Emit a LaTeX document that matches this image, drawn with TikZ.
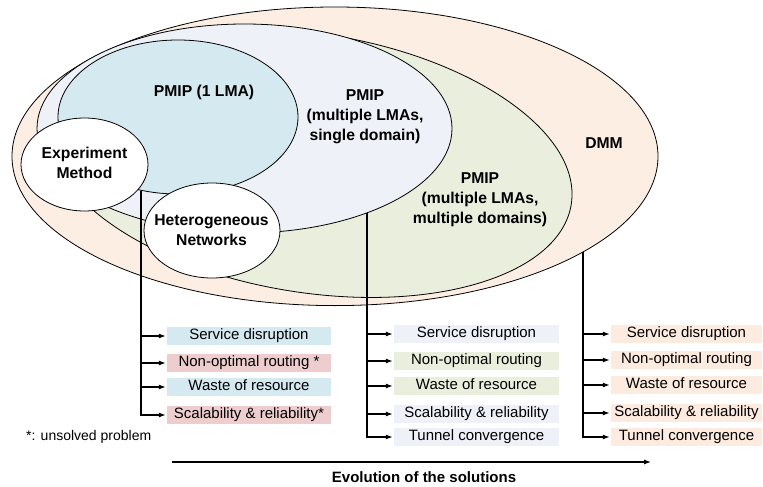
\documentclass[tikz,border=0pt]{standalone}
\usepackage{fontspec}
\setmainfont{Liberation Sans}
\usetikzlibrary{arrows.meta}
\definecolor{peachf}{HTML}{FDEEE3}
\definecolor{greenf}{HTML}{EAEEDC}
\definecolor{grayf}{HTML}{EEF1F7}
\definecolor{bluef}{HTML}{D4EAF0}
\definecolor{pinkf}{HTML}{EDCDCD}
\definecolor{peachbox}{HTML}{FDEBDF}
\begin{document}
\begin{tikzpicture}[x=1pt,y=-1pt,
  outl/.style={draw=black,line width=0.8pt},
  lbl/.style={font=\bfseries\fontsize{15.7}{20}\selectfont,align=center,inner sep=0pt},
  issue/.style={font=\fontsize{15}{18}\selectfont,inner sep=0pt,minimum height=18pt,
    text height=10.8pt,text depth=3.2pt},
  conn/.style={line width=1.1pt,-{Latex[length=7pt,width=5pt]},shorten >=1pt},
]
\useasboundingbox (0,0) rectangle (763,487);

% ellipses
\path[outl,fill=peachf] (335,156.3) ellipse [x radius=323pt, y radius=149.3pt];
\path[outl,fill=greenf,rotate around={-9:(310.2,163)}] (310.2,163) ellipse [x radius=264.3pt, y radius=129.5pt];
\path[outl,fill=grayf] (244.5,128.5) ellipse [x radius=207.5pt, y radius=104.5pt];
\path[outl,fill=bluef] (178,117) ellipse [x radius=120pt, y radius=77pt];
\path[outl,fill=white] (84.5,164.5) ellipse [x radius=63.5pt, y radius=46.5pt];
\path[outl,fill=white] (212,230.5) ellipse [x radius=68pt, y radius=47.5pt];

% labels
\node[lbl] (l1) at (204,92) {PMIP (1 LMA)};
\node[lbl] (l2) at (365,117) {PMIP\\(multiple LMAs,\\single domain)};
\node[lbl] (l3) at (480,200) {PMIP\\(multiple LMAs,\\multiple domains)};
\node[lbl] (l4) at (604,143) {DMM};
\node[lbl] (l5) at (84.5,163) {Experiment\\Method};
\node[lbl] (l6) at (211.5,230) {Heterogeneous\\Networks};

% connector origins
\coordinate (c1) at (141,190.5);
\coordinate (c2) at (367,213);
\coordinate (c3) at (583,252);

% column 1
\node[issue,fill=bluef,minimum width=164pt] (a1) at (249,336) {Service disruption};
\node[issue,fill=pinkf,minimum width=164pt] (a2) at (249,363) {Non-optimal routing *};
\node[issue,fill=bluef,minimum width=164pt] (a3) at (249,387) {Waste of resource};
\node[issue,fill=pinkf,minimum width=164pt] (a4) at (249,415) {Scalability \& reliability*};

% column 2
\node[issue,fill=grayf,minimum width=165pt] (b1) at (476.5,334) {Service disruption};
\node[issue,fill=greenf,minimum width=165pt] (b2) at (476.5,361) {Non-optimal routing};
\node[issue,fill=greenf,minimum width=165pt] (b3) at (476.5,386) {Waste of resource};
\node[issue,fill=grayf,minimum width=165pt] (b4) at (476.5,414) {Scalability \& reliability};
\node[issue,fill=grayf,minimum width=165pt] (b5) at (476.5,437) {Tunnel convergence};

% column 3
\node[issue,fill=peachbox,minimum width=151pt] (d1) at (686.5,334) {Service disruption};
\node[issue,fill=peachbox,minimum width=151pt] (d2) at (686.5,360) {Non-optimal routing};
\node[issue,fill=peachbox,minimum width=151pt] (d3) at (686.5,385) {Waste of resource};
\node[issue,fill=peachbox,minimum width=151pt] (d4) at (686.5,413) {Scalability \& reliability};
\node[issue,fill=peachbox,minimum width=151pt] (d5) at (686.5,437) {Tunnel convergence};

\foreach \t in {a1,a2,a3,a4} \draw[conn] (c1) |- (\t.west);
\foreach \t in {b1,b2,b3,b4,b5} \draw[conn] (c2) |- (\t.west);
\foreach \t in {d1,d2,d3,d4,d5} \draw[conn] (c3) |- (\t.west);

% footnote
\node[anchor=west,font=\fontsize{14}{16}\selectfont,inner sep=0pt] (fn) at (26,437) {*: unsolved problem};

% evolution
\coordinate (e0) at (172,462);
\coordinate (e1) at (651,462);
\draw[line width=1.1pt,-{Latex[length=7pt,width=5pt]}] (e0) -- (e1);
\node[font=\bfseries\fontsize{15}{18}\selectfont,inner sep=0pt] (ev) at (424,477) {Evolution of the solutions};
\end{tikzpicture}
\end{document}
